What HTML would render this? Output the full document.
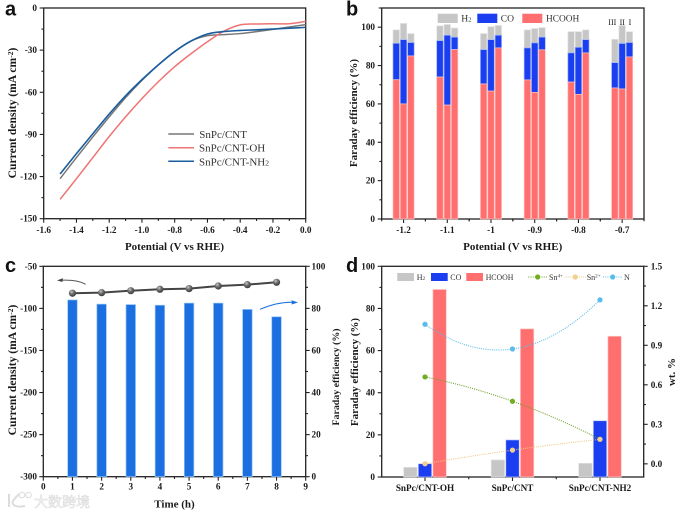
<!DOCTYPE html>
<html lang="en">
<head>
<meta charset="utf-8">
<title>SnPc/CNT electrochemical performance</title>
<style>
html,body{margin:0;padding:0;background:#fff;width:680px;height:514px;overflow:hidden}
svg{display:block;filter:blur(.35px)}
text{font-family:"Liberation Serif","Noto Sans CJK SC",serif;fill:#1a1a1a}
.t{font-weight:bold;font-size:9.2px}
.ti{font-weight:bold;font-size:11px}
.pl{font-family:"Liberation Sans",sans-serif;font-weight:bold;font-size:20px;fill:#111}
.f{fill:none;stroke:#222;stroke-width:1.3}
.lg{font-size:11px;fill:#333}
.lb{font-size:9.6px;fill:#333}
.ld{font-size:8px;fill:#333}
</style>
</head>
<body>
<svg id="fig" xmlns="http://www.w3.org/2000/svg" width="680" height="514" viewBox="0 0 680 514">
<defs>
<radialGradient id="ball" cx="38%" cy="32%" r="70%"><stop offset="0" stop-color="#c9c9c9"/><stop offset=".45" stop-color="#6d6d6d"/><stop offset="1" stop-color="#3a3a3a"/></radialGradient>
</defs>

<g id="pa">
<text class="pl" x="5" y="15.5">a</text>
<rect class="f" x="43.7" y="8" width="262" height="210.7"/>
<text class="ti" x="174.5" y="250" text-anchor="middle">Potential (V vs RHE)</text>
<text class="ti" style="font-size:11.6px" transform="translate(16,113) rotate(-90)" text-anchor="middle">Current density (mA cm<tspan dy="-3" font-size="7.5">-2</tspan><tspan dy="3">)</tspan></text>
<g>
<line x1="168.3" x2="194" y1="134" y2="134" stroke="#777" stroke-width="1.5"/>
<text class="lg" x="199.3" y="138">SnPc/CNT</text>
<line x1="168.3" x2="194" y1="147.7" y2="147.7" stroke="#ee7474" stroke-width="1.5"/>
<text class="lg" x="199" y="151.7">SnPc/CNT-OH</text>
<line x1="168.3" x2="194" y1="161.3" y2="161.3" stroke="#1a5e9e" stroke-width="1.5"/>
<text class="lg" x="199" y="165.3">SnPc/CNT-NH<tspan font-size="7.5">2</tspan></text>
</g>
</g>

<g id="pb">
<text class="pl" x="346" y="15.5">b</text>
<rect class="f" x="381.7" y="8" width="262.3" height="211"/>
<text class="ti" x="512.7" y="250" text-anchor="middle">Potential (V vs RHE)</text>
<text class="ti" transform="translate(357,113) rotate(-90)" text-anchor="middle">Faraday efficiency (%)</text>
<g>
<rect x="437.7" y="13.7" width="20" height="9.3" fill="#c6c6c6"/>
<text class="lb" x="461.3" y="21.7">H<tspan font-size="6.5">2</tspan></text>
<rect x="477.3" y="13.7" width="20" height="9.3" fill="#1a3ef0"/>
<text class="lb" x="500.7" y="21.7">CO</text>
<rect x="522.3" y="13.7" width="20" height="9.3" fill="#ff6f6f"/>
<text class="lb" x="546" y="21.7" textLength="33.3" lengthAdjust="spacingAndGlyphs">HCOOH</text>
</g>
<g text-anchor="middle">
<text x="612.3" y="25" font-size="8">III</text>
<text x="622.3" y="25" font-size="8">II</text>
<text x="630" y="25" font-size="8">I</text>
</g>
</g>

<g id="pc">
<text class="pl" x="5" y="272">c</text>
<rect class="f" x="43.3" y="266.3" width="262.4" height="210.4"/>
<text class="ti" x="174.5" y="507.7" text-anchor="middle">Time (h)</text>
<text class="ti" style="font-size:11.6px" transform="translate(16,370) rotate(-90)" text-anchor="middle">Current density (mA cm<tspan dy="-3" font-size="7.5">-2</tspan><tspan dy="3">)</tspan></text>
<text class="ti" style="font-size:9.9px" transform="translate(339,377) rotate(-90)" text-anchor="middle">Faraday efficiency (%)</text>
<path d="M85.7 284.3Q76.7 279.3 60 280.3" fill="none" stroke="#555" stroke-width="1"/>
<polygon points="57,280.4 63,278.2 62.4,282" fill="#444"/>
<path d="M260 309.3Q278 301.5 294 302.3" fill="none" stroke="#1b6fe0" stroke-width="1"/>
<polygon points="298,302.4 291.5,300.3 291.8,304.5" fill="#1b6fe0"/>
</g>

<g id="pd">
<text class="pl" x="346" y="272">d</text>
<rect class="f" x="381.7" y="266.3" width="262" height="210.7"/>
<text class="ti" transform="translate(358,372) rotate(-90)" text-anchor="middle">Faraday efficiency (%)</text>
<text class="ti" transform="translate(675,372) rotate(-90)" text-anchor="middle">wt. %</text>
<g>
<rect x="397.3" y="273" width="16.7" height="8" fill="#c6c6c6"/>
<text class="ld" x="416.7" y="279.8">H<tspan font-size="5.5">2</tspan></text>
<rect x="431" y="273" width="16.7" height="8" fill="#1a3ef0"/>
<text class="ld" x="450.3" y="279.8">CO</text>
<rect x="466.3" y="273" width="16.7" height="8" fill="#ff6f6f"/>
<text class="ld" x="485.7" y="279.8" textLength="27.7" lengthAdjust="spacingAndGlyphs">HCOOH</text>
<line x1="528.3" x2="548.3" y1="277" y2="277" stroke="#6f9e2a" stroke-width="1" stroke-dasharray="1 1.2"/>
<circle cx="537.7" cy="277" r="2.6" fill="#6fae1e"/>
<text class="ld" x="549" y="279.8">Sn<tspan dy="-2.2" font-size="5.2">4+</tspan></text>
<line x1="565.5" x2="586" y1="277" y2="277" stroke="#ecc987" stroke-width="1" stroke-dasharray="1 1.2"/>
<circle cx="575.3" cy="277" r="2.6" fill="#f2cf8e"/>
<text class="ld" x="586.7" y="279.8">Sn<tspan dy="-2.2" font-size="5.2">2+</tspan></text>
<line x1="603" x2="622.5" y1="277" y2="277" stroke="#5bbceb" stroke-width="1" stroke-dasharray="1 1.2"/>
<circle cx="612.7" cy="277" r="2.6" fill="#5bbceb"/>
<text class="ld" x="624" y="279.8">N</text>
</g>
</g>

<g>
<path d="M9 494V507M19 494Q12 501 12.5 503Q14 508 25 506" fill="none" stroke="#dcdcdc" stroke-width="2"/>
<circle cx="22" cy="495" r="2.8" fill="#fff" stroke="#dcdcdc" stroke-width="1"/>
<circle cx="28.5" cy="495" r="2.8" fill="#fff" stroke="#dcdcdc" stroke-width="1"/>
<text x="34" y="507" font-size="14" style="fill:#f6f6f6;stroke:#d6d6d6;stroke-width:.45;font-family:'Liberation Sans','Noto Sans CJK SC',sans-serif">大数跨境</text>
</g>
</svg>

<script>
// ---- Panel a data ----
const potentialsA = [-1.5,-1.4,-1.3,-1.2,-1.1,-1.0,-0.9,-0.8,-0.7,-0.6,-0.5,-0.4,-0.3,-0.2,-0.1,0];
const currentCNT = [-121.5,-106.5,-91.8,-77.5,-63.8,-51.5,-40.5,-31,-23.5,-19.7,-19,-18.2,-16.8,-15.2,-13.5,-11.8];
const currentOH = [-136.2,-121.5,-106.5,-91.5,-77.5,-64.5,-52.5,-41.8,-32.5,-24,-16.5,-12,-11.4,-11.2,-11.2,-9.5];
const currentNH2 = [-118.2,-103.7,-89.5,-75.5,-62.5,-51,-40.5,-31,-23.5,-18.5,-16.8,-16,-15.5,-15,-14.4,-13.8];
const xTicksA = ['-1.6','-1.4','-1.2','-1.0','-0.8','-0.6','-0.4','-0.2','0.0'];
const yTicksA = ['0','-30','-60','-90','-120','-150'];

// ---- Panel b data: each row is one potential, columns are samples III, II, I ----
const categoriesB = ['-1.2','-1.1','-1','-0.9','-0.8','-0.7'];
const hcoohB = [[72.6,60,85],[74,59.4,88.3],[70.4,66.7,89.2],[72.5,66,88.2],[71.4,65,86.6],[68.3,67.8,84.5]];
const coB = [[19,33.5,7],[19,36.4,6.5],[17.9,26.8,6.6],[16.7,25.8,6.6],[15.2,24.5,6.9],[13.2,23.7,7.5]];
const h2B = [[7,8.5,4.7],[7.7,5.6,4.8],[8.4,6.8,5.1],[9.4,7.5,5],[11.1,8.2,5.1],[12.2,9.4,5.7]];
const yTicksB = ['0','20','40','60','80','100'];

// ---- Panel c data ----
const hoursC = [1,2,3,4,5,6,7,8];
const efficiencyC = [84,82,81.8,81.5,82.5,82.5,79.5,76];
const currentC = [-82,-81.3,-79,-77.3,-76.5,-73.4,-71.8,-69];
const xTicksC = ['0','1','2','3','4','5','6','7','8','9'];
const yLeftTicksC = ['-50','-100','-150','-200','-250','-300'];
const yRightTicksC = ['0','20','40','60','80','100'];

// ---- Panel d data ----
const categoriesD = ['SnPc/CNT-OH','SnPc/CNT','SnPc/CNT-NH2'];
const h2D = [4.6,8.1,6.5];
const coD = [6.3,17.6,26.7];
const hcoohD = [89,70.3,66.8];
const sn4D = [0.66,0.475,0.186];
const sn2D = [0,0.104,0.186];
const nD = [1.06,0.872,1.245];
const yLeftTicksD = ['0','20','40','60','80','100'];
const yRightTicksD = ['0.0','0.3','0.6','0.9','1.2','1.5'];

const NS = 'http://www.w3.org/2000/svg';
function add(parent, tag, attrs, txt) {
  const el = document.createElementNS(NS, tag);
  for (const k in attrs) el.setAttribute(k, attrs[k]);
  if (txt !== undefined) el.textContent = txt;
  parent.appendChild(el);
  return el;
}
function linear(d0, d1, r0, r1) { return v => r0 + (v - d0) / (d1 - d0) * (r1 - r0); }
function smooth(pts) {
  let d = 'M' + pts[0][0] + ' ' + pts[0][1];
  for (let i = 0; i < pts.length - 1; i++) {
    const p0 = pts[Math.max(0, i - 1)], p1 = pts[i], p2 = pts[i + 1], p3 = pts[Math.min(pts.length - 1, i + 2)];
    d += 'C' + (p1[0] + (p2[0] - p0[0]) / 6) + ' ' + (p1[1] + (p2[1] - p0[1]) / 6) + ' ' + (p2[0] - (p3[0] - p1[0]) / 6) + ' ' + (p2[1] - (p3[1] - p1[1]) / 6) + ' ' + p2[0] + ' ' + p2[1];
  }
  return d;
}
function parabola(xs, ys) {
  let d = '';
  for (let k = 0; k <= 40; k++) {
    const x = xs[0] + (xs[2] - xs[0]) * k / 40;
    const l0 = (x - xs[1]) * (x - xs[2]) / ((xs[0] - xs[1]) * (xs[0] - xs[2]));
    const l1 = (x - xs[0]) * (x - xs[2]) / ((xs[1] - xs[0]) * (xs[1] - xs[2]));
    const l2 = (x - xs[0]) * (x - xs[1]) / ((xs[2] - xs[0]) * (xs[2] - xs[1]));
    d += (k ? 'L' : 'M') + x + ' ' + (ys[0] * l0 + ys[1] * l1 + ys[2] * l2);
  }
  return d;
}
function tick(g, x1, y1, x2, y2, name) {
  const el = add(g, 'line', {x1: x1, y1: y1, x2: x2, y2: y2, stroke: '#222', 'stroke-width': 1.1});
  
  
  return el;
}
function label(g, x, y, anchor, str, name, cls) {
  const el = add(g, 'text', {x: x, y: y, 'text-anchor': anchor, class: cls || 't'}, str);
  
  
  return el;
}
function bar(g, x, w, yTop, yBottom, fill, stroke, name) {
  const el = add(g, 'rect', {x: x - w / 2, y: yTop, width: w, height: yBottom - yTop, fill: fill, stroke: stroke, 'stroke-width': 0.7});
  
  
  return el;
}
function yAxis(g, labels, r0, r1, xAxis, dir, labelX, prefix) {
  const n = labels.length - 1;
  for (let i = 0; i <= n; i++) {
    const y = r0 + (r1 - r0) * i / n;
    tick(g, xAxis, y, xAxis + dir * 4, y, prefix + '-major-tick');
    label(g, labelX, y + 3, dir < 0 ? 'end' : 'start', labels[i], prefix + '-tick-label');
    if (i < n) {
      const ym = y + (r1 - r0) / n / 2;
      tick(g, xAxis, ym, xAxis + dir * 2.3, ym, prefix + '-minor-tick');
    }
  }
}

// Panel a
const gA = document.getElementById('pa');
const xA = linear(-1.6, 0, 43.7, 305.7);
const yA = linear(0, -150, 8, 218.7);
xTicksA.forEach((t, i) => {
  const x = xA(parseFloat(t));
  tick(gA, x, 218.7, x, 222.7, 'panel-a-x-major-tick');
  label(gA, x, 233, 'middle', t, 'panel-a-x-tick-label');
  if (i < xTicksA.length - 1) tick(gA, x + 16.375, 218.7, x + 16.375, 221, 'panel-a-x-minor-tick');
});
yTicksA.forEach((t, i) => {
  const y = yA(parseFloat(t));
  tick(gA, 43.7, y, 39.7, y, 'panel-a-y-major-tick');
  label(gA, 37, y + 3, 'end', t, 'panel-a-y-tick-label');
  if (i < yTicksA.length - 1) tick(gA, 43.7, y + 21.07, 41.4, y + 21.07, 'panel-a-y-minor-tick');
});
[[currentCNT, '#777', 'curve-snpc-cnt', 1.5], [currentOH, '#ee7474', 'curve-snpc-cnt-oh', 1.5], [currentNH2, '#1a5e9e', 'curve-snpc-cnt-nh2', 1.6]].forEach(s => {
  const pts = potentialsA.map((p, i) => [xA(p), yA(s[0][i])]);
  const el = add(gA, 'path', {d: smooth(pts), fill: 'none', stroke: s[1], 'stroke-width': s[3]});
  
  
});

// Panel b
const gB = document.getElementById('pb');
const yB = linear(0, 110, 219, 8);
const xB = i => 381.7 + (i + 0.5) * 43.72;
const sampleOffset = [-7.33, 0, 7.33];
yAxis(gB, yTicksB, 219, yB(100), 381.7, -1, 375, 'panel-b-y');
tick(gB, 381.7, yB(110), 378.7, yB(110), 'panel-b-y-minor-tick');
categoriesB.forEach((c, i) => {
  const x = xB(i);
  tick(gB, x, 219, x, 223, 'panel-b-x-major-tick');
  tick(gB, x - 21.86, 219, x - 21.86, 221.3, 'panel-b-x-minor-tick');
  tick(gB, x + 21.86, 219, x + 21.86, 221.3, 'panel-b-x-minor-tick');
  label(gB, x, 233, 'middle', c, 'panel-b-x-tick-label');
  sampleOffset.forEach((o, j) => {
    const a = hcoohB[i][j], b = a + coB[i][j], t = b + h2B[i][j];
    bar(gB, x + o, 6.5, yB(t), yB(b), '#c6c6c6', '#e6e6e6', 'bar-h2');
    bar(gB, x + o, 6.5, yB(b), yB(a), '#1a3ef0', '#9db4f8', 'bar-co');
    bar(gB, x + o, 6.5, yB(a), 219, '#ff6f6f', '#ffc2c2', 'bar-hcooh');
  });
});

// Panel c
const gC = document.getElementById('pc');
const xC = linear(0, 9, 43.3, 305.7);
const yCL = linear(-50, -300, 266.3, 476.7);
const yCR = linear(0, 100, 476.7, 266.3);
xTicksC.forEach((t, i) => {
  const x = xC(parseFloat(t));
  tick(gC, x, 476.7, x, 480.7, 'panel-c-x-major-tick');
  label(gC, x, 489.5, 'middle', t, 'panel-c-x-tick-label');
  if (i < 9) tick(gC, x + 14.58, 476.7, x + 14.58, 479, 'panel-c-x-minor-tick');
});
yAxis(gC, yLeftTicksC, 266.3, 476.7, 43.3, -1, 37, 'panel-c-left-y');
yAxis(gC, yRightTicksC, 476.7, 266.3, 305.7, 1, 311.5, 'panel-c-right-y');
hoursC.forEach((h, i) => {
  bar(gC, xC(h), 9.5, yCR(efficiencyC[i]), 476.7, '#1b6fe0', '#8fc2f2', 'efficiency-bar');
});
{
  const d = hoursC.map((h, i) => (i ? 'L' : 'M') + xC(h) + ' ' + yCL(currentC[i])).join('');
  const el = add(gC, 'path', {d: d, fill: 'none', stroke: '#444', 'stroke-width': 2});
  
  
}
hoursC.forEach((h, i) => {
  const el = add(gC, 'circle', {cx: xC(h), cy: yCL(currentC[i]), r: 3.6, fill: 'url(#ball)'});
  
  
});

// Panel d
const gD = document.getElementById('pd');
const yDL = linear(0, 100, 477, 266.3);
const yDR = linear(-0.1, 1.5, 477, 266.3);
const xD = i => 425 + i * 87.5;
yAxis(gD, yLeftTicksD, 477, 266.3, 381.7, -1, 375, 'panel-d-left-y');
yRightTicksD.forEach((t, i) => {
  const y = yDR(parseFloat(t));
  tick(gD, 643.7, y, 647.7, y, 'panel-d-right-y-major-tick');
  label(gD, 650.7, y + 3, 'start', t, 'panel-d-right-y-tick-label');
  if (i < yRightTicksD.length - 1) tick(gD, 643.7, yDR(parseFloat(t) + 0.15), 646, yDR(parseFloat(t) + 0.15), 'panel-d-right-y-minor-tick');
});
categoriesD.forEach((c, i) => {
  const x = xD(i);
  tick(gD, x, 477, x, 481, 'panel-d-x-major-tick');
  if (i < 2) tick(gD, x + 43.75, 477, x + 43.75, 479.3, 'panel-d-x-minor-tick');
  label(gD, x, 491, 'middle', c, 'panel-d-x-tick-label');
  bar(gD, x - 14.6, 13.4, yDL(h2D[i]), 477, '#c6c6c6', '#e2e2e2', 'bar-h2');
  bar(gD, x, 13.4, yDL(coD[i]), 477, '#1a3ef0', '#c4d0fb', 'bar-co');
  bar(gD, x + 14.6, 13.4, yDL(hcoohD[i]), 477, '#ff6f6f', '#ffc8c8', 'bar-hcooh');
});
[[sn4D, '#6f9e2a', '#6fae1e', 'sn4'], [sn2D, '#ecc987', '#f2cf8e', 'sn2'], [nD, '#5bbceb', '#5bbceb', 'n']].forEach(s => {
  const xs = s[0].map((v, i) => xD(i));
  const ys = s[0].map(v => yDR(v));
  const el = add(gD, 'path', {d: parabola(xs, ys), fill: 'none', stroke: s[1], 'stroke-width': 1.1, 'stroke-dasharray': '1 1.2'});
  
  
  s[0].forEach((v, i) => {
    const m = add(gD, 'circle', {cx: xs[i], cy: ys[i], r: 2.6, fill: s[2]});
    
    
  });
});
</script>
</body>
</html>
